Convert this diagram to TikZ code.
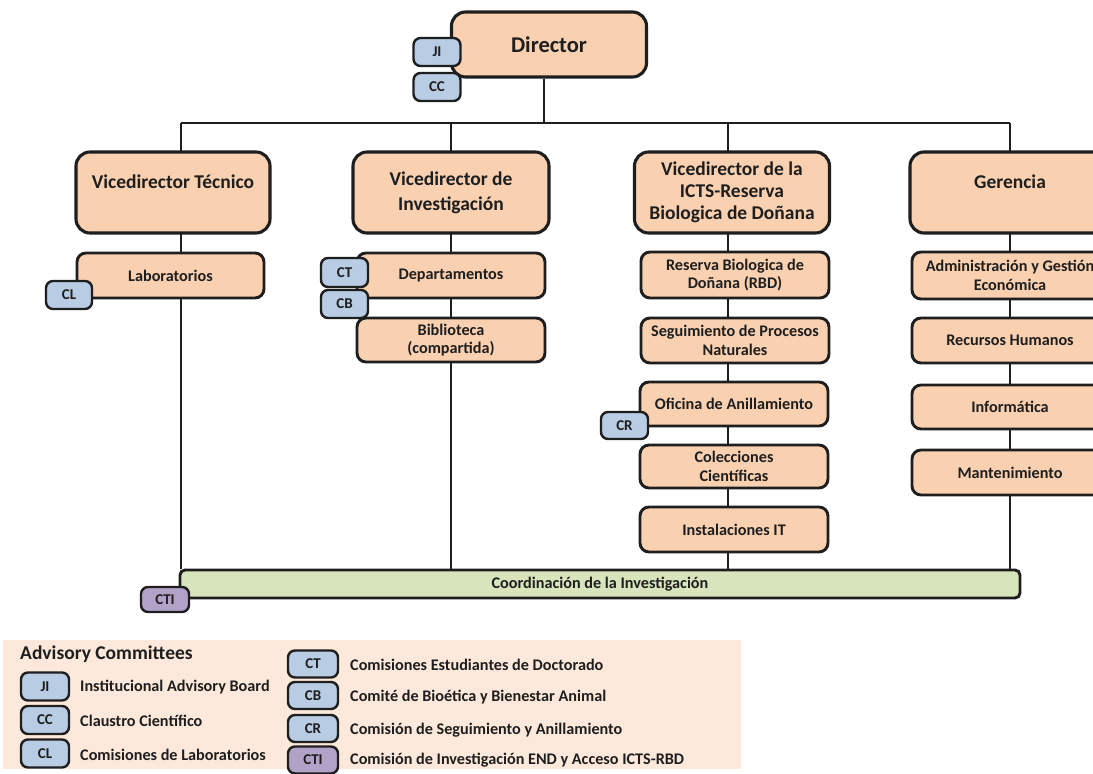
\documentclass[tikz,border=0pt]{standalone}
\usepackage{fontspec}
\setmainfont{Carlito}
\usetikzlibrary{backgrounds}
\definecolor{peach}{HTML}{F9D0B0}
\definecolor{tagblue}{HTML}{B8CCE4}
\definecolor{tagpurple}{HTML}{B3A2C7}
\definecolor{barGreen}{HTML}{D8E4BC}
\definecolor{legbg}{HTML}{FCE9DB}
\definecolor{ink}{HTML}{1E1E1E}
\tikzset{
  big/.style={draw=ink, line width=3.1pt, rounded corners=14pt, fill=peach, align=center,
    inner sep=0pt, text=ink, font=\bfseries\fontsize{19.5}{22}\selectfont,
    minimum height=81pt},
  sub/.style={draw=ink, line width=2.9pt, rounded corners=9pt, fill=peach, align=center,
    inner sep=0pt, text=ink, font=\bfseries\fontsize{16.2}{18.5}\selectfont,
    minimum width=188pt, minimum height=45pt},
  tag/.style={draw=ink, line width=2.4pt, rounded corners=7pt, fill=tagblue, inner sep=0pt,
    text=ink, font=\bfseries\fontsize{15}{16}\selectfont, minimum width=47pt, minimum height=28pt},
  ptag/.style={tag, fill=tagpurple},
  conn/.style={draw=ink, line width=2.6pt},
  legtxt/.style={anchor=west, inner sep=0pt, text=ink, font=\bfseries\fontsize{16.2}{18}\selectfont},
  raised/.style={text height=14pt, text depth=22pt}
}
\begin{document}
\begin{tikzpicture}[x=1pt,y=-1pt]
\useasboundingbox (0,0) rectangle (1093,774);

% top
\node[big, minimum width=195pt, minimum height=65pt, font=\bfseries\fontsize{22.5}{26}\selectfont] (dir) at (549,44.5) {Director};
\node[tag] (ji) at (437,52) {JI};
\node[tag] (cc) at (437,87) {CC};

% level 1
\node[big, minimum width=194pt, raised] (vt) at (173,192.5) {Vicedirector Técnico};
\node[big, minimum width=196pt, font=\bfseries\fontsize{19.5}{25}\selectfont] (vi) at (451,192.5) {Vicedirector de\\Investigación};
\node[big, minimum width=195pt] (ict) at (732,192.5) {Vicedirector de la\\ICTS-Reserva\\Biologica de Doñana};
\node[big, minimum width=200pt, raised] (ger) at (1010,192.5) {Gerencia};

% column 1
\node[sub, minimum width=187pt] (lab) at (170.5,275.5) {Laboratorios};
\node[tag, minimum width=46pt] (cl) at (69,295) {CL};

% column 2
\node[sub] (dep) at (451,275.5) {Departamentos};
\node[sub, minimum height=44pt] (bib) at (451,340) {Biblioteca\\(compartida)};
\node[tag, minimum height=29pt] (ct) at (344.5,272.5) {CT};
\node[tag] (cb) at (344.5,304) {CB};

% column 3
\node[sub, minimum height=46pt] (rbd) at (735,275) {Reserva Biologica de\\Doñana (RBD)};
\node[sub] (spn) at (735,340.5) {Seguimiento de Procesos\\Naturales};
\node[sub, minimum height=44pt] (ofa) at (734,404) {Oficina de Anillamiento};
\node[sub, minimum height=43pt] (col) at (734,466.5) {Colecciones\\Científicas};
\node[sub] (ins) at (734,529.5) {Instalaciones IT};
\node[tag, minimum height=27pt] (cr) at (624.5,425.5) {CR};

% column 4
\node[sub, minimum width=196pt, minimum height=47pt] (adm) at (1010,275.5) {Administración y Gestión\\Económica};
\node[sub, minimum width=196pt] (rh) at (1010,340.5) {Recursos Humanos};
\node[sub, minimum width=196pt, minimum height=44pt] (inf) at (1010,407) {Informática};
\node[sub, minimum width=196pt] (man) at (1010,472.5) {Mantenimiento};

% coordination bar
\node[sub, fill=barGreen, rounded corners=5pt, minimum width=840pt, minimum height=28pt] (coord) at (600,584) {Coordinación de la Investigación};
\node[ptag, minimum width=48pt, minimum height=25pt] (cti) at (165,599.5) {CTI};

% connectors
\coordinate (hl) at (181,123);
\coordinate (hr) at (1010,123);
\begin{pgfonlayer}{background}
\draw[conn] ([xshift=-5pt]dir.south) -- ([xshift=-5pt]dir.south |- hl);
\draw[conn] (hl) -- (hr);
\draw[conn] (hl) -- (hl |- coord.north);
\draw[conn] (vi.north |- hl) -- (vi.north |- coord.north);
\draw[conn] ([xshift=-4pt]ict.north |- hl) -- ([xshift=-4pt]ict.north |- coord.north);
\draw[conn] (hr) -- (hr |- coord.north);
\end{pgfonlayer}

% legend
\node[fill=legbg, inner sep=0pt, minimum width=738pt, minimum height=129pt] (legend) at (372,704.5) {};
\node[anchor=west, inner sep=0pt, text=ink, font=\bfseries\fontsize{19.5}{22}\selectfont] (legtitle) at (20,654) {Advisory Committees};
\node[tag, minimum width=48pt] (lji) at (45,686.5) {JI};
\node[tag, minimum width=48pt] (lcc) at (45,720) {CC};
\node[tag, minimum width=48pt] (lcl) at (45,753.5) {CL};
\node[legtxt] (tji) at (80,687) {Institucional Advisory Board};
\node[legtxt] (tcc) at (80,721) {Claustro Científico};
\node[legtxt] (tcl) at (80,755) {Comisiones de Laboratorios};
\node[tag, minimum width=50pt, minimum height=27pt] (lct) at (313,664) {CT};
\node[tag, minimum width=50pt, minimum height=27pt] (lcb) at (313,695.5) {CB};
\node[tag, minimum width=50pt, minimum height=27pt] (lcr) at (313,728.5) {CR};
\node[ptag, minimum width=50pt, minimum height=27pt] (lcti) at (313,760) {CTI};
\node[legtxt] (tct) at (350,665) {Comisiones Estudiantes de Doctorado};
\node[legtxt] (tcb) at (350,697) {Comité de Bioética y Bienestar Animal};
\node[legtxt] (tcr) at (350,730) {Comisión de Seguimiento y Anillamiento};
\node[legtxt] (tcti) at (350,760) {Comisión de Investigación END y Acceso ICTS-RBD};
\end{tikzpicture}
\end{document}
